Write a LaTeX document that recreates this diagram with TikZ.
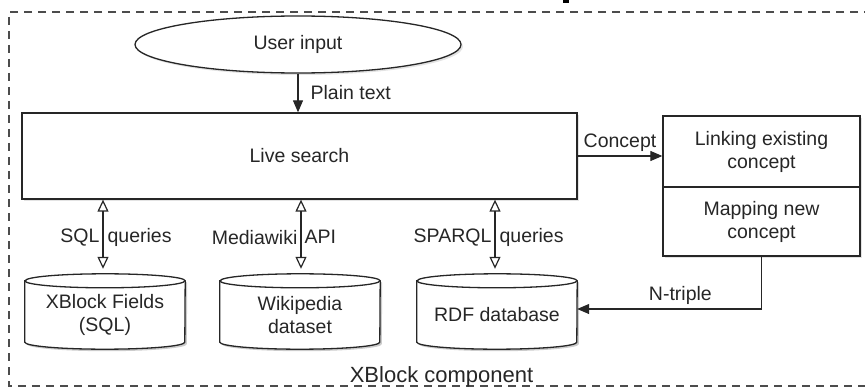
\documentclass[tikz,border=0pt]{standalone}
\usepackage{fontspec}
\setmainfont{Liberation Sans}
\usetikzlibrary{arrows.meta,shadows,shapes.geometric,backgrounds}

% database drum drawn around a named rectangle node (top rim centred on its north side)
\newcommand\dbcyl[1]{%
  \begin{scope}[on background layer]
    \fill[black!20, transform canvas={shift={(2pt,-2pt)}}]
      (#1.north west) -- ([yshift=7pt]#1.south west)
      arc[start angle=180,end angle=360,x radius=80pt,y radius=7pt]
      -- (#1.north east)
      arc[start angle=0,end angle=180,x radius=80pt,y radius=7pt] -- cycle;
    \fill[white]
      (#1.north west) -- ([yshift=7pt]#1.south west)
      arc[start angle=180,end angle=360,x radius=80pt,y radius=7pt]
      -- (#1.north east)
      arc[start angle=0,end angle=180,x radius=80pt,y radius=7pt] -- cycle;
  \end{scope}
  \draw[cylline]
    (#1.north west) -- ([yshift=7pt]#1.south west)
    arc[start angle=180,end angle=360,x radius=80pt,y radius=7pt]
    -- (#1.north east)
    arc[start angle=0,end angle=180,x radius=80pt,y radius=7pt] -- cycle;
  \draw[cylline] (#1.north west)
    arc[start angle=180,end angle=360,x radius=80pt,y radius=7pt];
}

\begin{document}
\begin{tikzpicture}[x=1pt,y=1pt,
  every node/.style={font=\fontsize{19.5}{23}\selectfont, text=black!85},
  box/.style={draw=black!85, line width=1.3pt, fill=white, inner sep=0pt,
    drop shadow={opacity=0.22, shadow xshift=2pt, shadow yshift=-2pt}},
  dbnode/.style={minimum width=160pt, minimum height=68pt, inner sep=0pt, align=center},
  cylline/.style={draw=black!85, line width=1.3pt},
  lbl/.style={inner sep=1pt},
  flow/.style={draw=black!85, line width=1.2pt, -{Triangle[length=12pt,width=10pt]}},
  query/.style={draw=black!85, line width=1.2pt,
    {Triangle[open,length=12pt,width=11pt]}-{Triangle[open,length=12pt,width=11pt]}},
  outerframe/.style={draw=black!70, line width=1.6pt, dash pattern=on 8pt off 6pt}
]
\useasboundingbox (0,0) rectangle (865,389);

% component boundary (open on the right)
\draw[outerframe] (872,377) -- (9,377) -- (9,3) -- (872,3);
\fill[black] (563,385.5) rectangle (569,389);

% processing blocks
\node[box, ellipse, minimum width=326pt, minimum height=57pt] (ui) at (298,344.5) {User input};
\node[box, minimum width=555pt, minimum height=86pt] (ls) at (299.5,233) {Live search};
\node[box, minimum width=197pt, minimum height=71pt, align=center] (link) at (761.5,237.5) {Linking existing\\concept};
\node[box, minimum width=197pt, minimum height=69pt, align=center] (map) at (761.5,167.5) {Mapping new\\concept};

% data stores
\node[dbnode] (sqldb) at (105,74) {XBlock Fields\\(SQL)};
\node[dbnode] (wiki) at (300,74) {Wikipedia\\dataset};
\node[dbnode] (rdf) at (497,74) {RDF database};
\dbcyl{sqldb}
\dbcyl{wiki}
\dbcyl{rdf}

% data flow
\draw[flow] (ui.south) -- (ui.south |- ls.north)
  node[midway, right, lbl, xshift=11pt] {Plain text};
\draw[flow] (ls.east) -- (ls.east -| link.west)
  node[midway, above, lbl, yshift=3pt] {Concept};
\draw[flow] (map.south) |- ([yshift=6pt]rdf.east)
  node[pos=0.72, above, lbl, yshift=3pt] {N-triple};

% query interfaces
\draw[query] ([xshift=-2pt,yshift=12pt]sqldb.north) -- ([xshift=-2pt]sqldb.north |- ls.south)
  node[midway, left, inner sep=3pt, yshift=-3pt] {SQL}
  node[midway, right, inner sep=4pt, yshift=-3pt] {queries};
\draw[query] ([xshift=1pt,yshift=12pt]wiki.north) -- ([xshift=1pt]wiki.north |- ls.south)
  node[midway, left, inner sep=3pt, yshift=-3pt] {Mediawiki}
  node[midway, right, inner sep=3pt, yshift=-3pt] {API};
\draw[query] ([xshift=-2pt,yshift=12pt]rdf.north) -- ([xshift=-2pt]rdf.north |- ls.south)
  node[midway, left, inner sep=3pt, yshift=-3pt] {SPARQL}
  node[midway, right, inner sep=4pt, yshift=-3pt] {queries};

\node[font=\fontsize{22}{26}\selectfont] (cap) at (441.5,12) {XBlock component};
\end{tikzpicture}
\end{document}
